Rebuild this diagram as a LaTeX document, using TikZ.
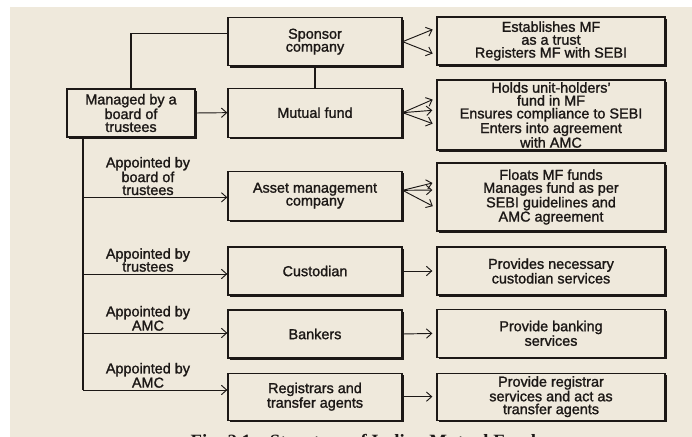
\documentclass[tikz,border=0pt]{standalone}
\usepackage{fontspec}
\setmainfont{Liberation Sans}[FakeBold=1.4]
\newfontfamily\capfont{Liberation Serif}
\usetikzlibrary{arrows.meta,shadows}
\definecolor{paper}{RGB}{239,233,220}
\definecolor{ink}{RGB}{28,24,22}

\begin{document}
\begin{tikzpicture}[
                    box/.style={
                    draw=ink,
                    line width=1.1pt,
                    fill=paper,
                    text=ink,
                    text centered,
                    minimum width=5.22cm,
                    minimum height=1.44cm,
                    inner sep=2pt,
                    font=\fontsize{12.3}{11}\selectfont,
                    align=center,
                    anchor=center,
                    drop shadow={shadow xshift=0.06cm, shadow yshift=-0.06cm, opacity=1, fill=ink},
                },
                    wbox/.style={box, minimum width=6.84cm},
                    lbox/.style={box, minimum width=3.84cm},
                    lab/.style={font=\fontsize{12.3}{11}\selectfont, text=ink, align=center, anchor=south, inner sep=1.5pt},
                    conn/.style={draw=ink, line width=1.1pt},
                    arr/.style={draw=ink, line width=0.8pt, -{Straight Barb[length=4.5pt,width=8pt]}},
                    gap/.style={shorten >=0.12cm},
                ]

% paper
\clip (0,0) rectangle (20.76,-13.11);
\fill[white] (0,0) rectangle (20.76,-13.11);
\fill[paper] (0.3,-0.21) rectangle (20.76,-13.11);

\draw
(9.45,-1.25) node[box] (sponsor) {Sponsor\\company}
(9.45,-3.38) node[box, minimum height=1.47cm] (mf) {Mutual fund}
(3.93,-3.39) node[lbox] (trustees) {Managed by a\\board of\\trustees}
(9.45,-5.87) node[box, minimum height=1.47cm] (amc) {Asset management\\company}
(9.45,-8.13) node[box] (cust) {Custodian}
(9.45,-10.02) node[box] (bank) {Bankers}
(9.45,-11.9) node[box, minimum height=1.41cm] (reg) {Registrars and\\transfer agents}
(16.53,-1.23) node[wbox] (est) {Establishes MF\\as a trust\\Registers MF with SEBI}
(16.53,-3.45) node[wbox, minimum height=1.98cm] (hold) {Holds unit-holders'\\fund in MF\\Ensures compliance to SEBI\\Enters into agreement\\with AMC}
(16.53,-5.91) node[wbox, minimum height=2.04cm] (float) {Floats MF funds\\Manages fund as per\\SEBI guidelines and\\AMC agreement}
(16.53,-8.13) node[wbox] (custserv) {Provides necessary\\custodian services}
(16.53,-10.0) node[wbox] (bankserv) {Provide banking\\services}
(16.53,-11.9) node[wbox, minimum height=1.41cm] (regserv) {Provide registrar\\services and act as\\transfer agents}
([xshift=-1.44cm]trustees.south) coordinate (trunk)
;

% trustees to sponsor and fund
\draw[conn] (trustees.north) |- ([yshift=0.25cm]sponsor.west);
\draw[conn] (sponsor.south) -- (mf.north);
\draw[arr] (trustees.east) -- (mf.west);

% appointed parties
\foreach \n/\dy/\t in {amc/-0.05/{Appointed by\\board of\\trustees}, cust/-0.09/{Appointed by\\trustees}, bank/0.03/{Appointed by\\AMC}, reg/0.2/{Appointed by\\AMC}}{
    \path ([yshift=\dy cm]\n.west) coordinate (\n-in);
    \draw[arr] (trunk |- \n-in) -- node[lab, pos=0.45]{\t} (\n-in);
}
\draw[conn] (trunk) -- (trunk |- reg-in);

% roles
\foreach \dy in {0.39,-0.42}
    \draw[arr, gap] (sponsor.east) -- ([yshift=\dy cm]est.west);
\foreach \dy in {0.51,0.15,-0.3}
    \draw[arr, gap] (mf.east) -- ([yshift=\dy cm]hold.west);
\foreach \dy in {0.45,0.21,-0.33}
    \draw[arr, gap] ([yshift=0.16cm]amc.east) -- ([yshift=\dy cm]float.west);
\foreach \a/\b in {cust/custserv, bank/bankserv, reg/regserv}
    \draw[arr, gap] (\a.east) -- (\b.west);

\node[font=\capfont\fontsize{16}{16}\selectfont\bfseries, text=ink, anchor=base] (caption) at (10.9,-13.43) {Fig. 2.1\quad Structure of Indian Mutual Fund};

\end{tikzpicture}
\end{document}
